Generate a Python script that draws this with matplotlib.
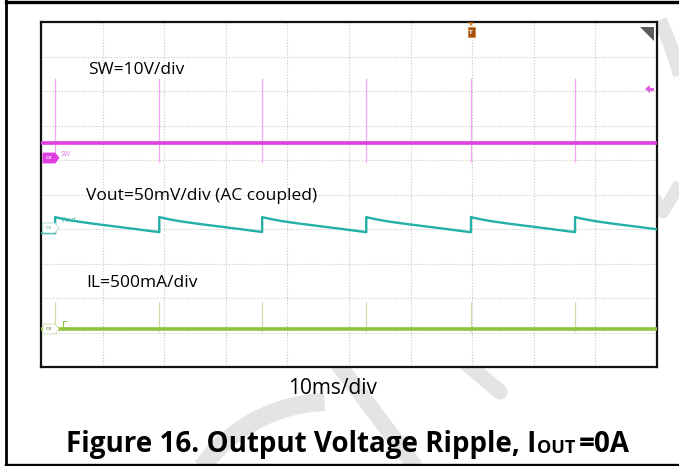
import numpy as np
import matplotlib
matplotlib.use("Agg")
import matplotlib.pyplot as plt
from matplotlib.patches import Polygon, Rectangle

# scope settings
TIME_PER_DIV_MS = 10
SW_V_PER_DIV = 10
VOUT_MV_PER_DIV = 50
IL_MA_PER_DIV = 500

# channel ground positions (divisions from bottom of the screen)
SW_OFFSET_DIV = 6.49
VOUT_OFFSET_DIV = 3.88
IL_OFFSET_DIV = 1.10

# switching bursts (ms)
pulse_times_ms = [2.3, 19.2, 35.9, 52.8, 69.8, 86.7]
sw_spike_v = [19.0, -5.5]
il_spike_ma = [390, -40]

# one Vout ripple cycle: time after burst (ms) / ripple (mV)
vout_decay_t_ms = [0, 1, 2, 3, 4, 6, 8, 10, 12, 14, 16.9]
vout_decay_mv = [23.2, 21.2, 19.4, 17.8, 16.4, 13.9, 11.6, 9.4, 7.1, 4.8, 1.4]
vout_start_mv = 0.0

W, H = 679, 466
SW_COLOR = "#e03ee0"
SW_SPIKE = "#f3a6f3"
VOUT_COLOR = "#22b0a8"
IL_COLOR = "#8fc23e"
IL_SPIKE = "#cadda6"
WM = "#e4e4e4"
FONT = "Open Sans"


def fx(px):
    return px / W


def fy(py):
    return 1 - py / H


fig = plt.figure(figsize=(W / 100, H / 100), dpi=100)
fig.patch.set_facecolor("white")

# background layer in pixel coords: watermark and page frame
bg = fig.add_axes([0, 0, 1, 1], zorder=0)
bg.set_xlim(0, W)
bg.set_ylim(H, 0)
bg.axis("off")


def arc(cx, cy, r, a0, a1, n=60):
    a = np.radians(np.linspace(a0, a1, n))
    return cx + r * np.cos(a), cy - r * np.sin(a)


x, y = arc(330, 560, 158, 152, 92)
bg.plot(x, y, color=WM, lw=13, solid_capstyle="butt")
bg.plot([335, 418], [360, 470], color=WM, lw=11.5, solid_capstyle="butt")
bg.plot([462, 500], [360, 392], color=WM, lw=11, solid_capstyle="round")
bg.plot([660, 666, 672, 678, 684], [20, 34, 50, 68, 90], color=WM, lw=10, solid_capstyle="butt")
bg.plot([640, 663, 688], [175, 212, 170], color=WM, lw=9, solid_capstyle="butt")

# page frame
bg.plot([6, W], [1.5, 1.5], color="black", lw=2.4)
bg.plot([6, 6], [0, H], color="black", lw=2.0)
bg.plot([6, W], [464.5, 464.5], color="black", lw=2.4)

# scope screen
left, right, top, bottom = 41, 657, 22, 367
ax = fig.add_axes([fx(left), fy(bottom), fx(right - left), (bottom - top) / H], zorder=2)
ax.set_facecolor("white")
ax.set_xlim(0, 10 * TIME_PER_DIV_MS)
ax.set_ylim(0, 10)
ax.set_xticks([])
ax.set_yticks([])
for s in ax.spines.values():
    s.set_linewidth(1.6)
    s.set_color("#111111")

for i in range(1, 10):
    ax.axvline(i * TIME_PER_DIV_MS, color="#c8c8c8", lw=0.8, ls=(0, (1, 1.6)), zorder=1)
    ax.axhline(i, color="#c8c8c8", lw=0.8, ls=(0, (1, 1.6)), zorder=1)

t_end = 10 * TIME_PER_DIV_MS

# SW channel
ax.vlines(pulse_times_ms, SW_OFFSET_DIV + sw_spike_v[1] / SW_V_PER_DIV,
          SW_OFFSET_DIV + sw_spike_v[0] / SW_V_PER_DIV, color=SW_SPIKE, lw=0.9, zorder=3)
ax.plot([0, t_end], [SW_OFFSET_DIV, SW_OFFSET_DIV], color=SW_COLOR, lw=2.6, zorder=4)

# Vout channel
vt = [0, pulse_times_ms[0]]
vv = [vout_start_mv, vout_start_mv]
for k, p in enumerate(pulse_times_ms):
    end = pulse_times_ms[k + 1] if k + 1 < len(pulse_times_ms) else t_end
    for dt, mv in zip(vout_decay_t_ms, vout_decay_mv):
        if p + dt < end:
            vt.append(p + dt)
            vv.append(mv)
    vt.append(end)
    vv.append(np.interp(end - p, vout_decay_t_ms, vout_decay_mv))
vt = np.array(vt)
vv = np.array(vv)
ax.plot(vt, VOUT_OFFSET_DIV + vv / VOUT_MV_PER_DIV, color=VOUT_COLOR, lw=1.7, zorder=4)

# IL channel
ax.vlines(pulse_times_ms, IL_OFFSET_DIV + il_spike_ma[1] / IL_MA_PER_DIV,
          IL_OFFSET_DIV + il_spike_ma[0] / IL_MA_PER_DIV, color=IL_SPIKE, lw=0.9, zorder=3)
ax.plot([0, t_end], [IL_OFFSET_DIV, IL_OFFSET_DIV], color=IL_COLOR, lw=2.6, zorder=4)

# overlay for scope markers (pixel coords)
ov = fig.add_axes([0, 0, 1, 1], zorder=3)
ov.set_xlim(0, W)
ov.set_ylim(H, 0)
ov.axis("off")
ov.patch.set_alpha(0)


def chan_marker(yc, face, edge, txt, tcolor):
    pts = [(43, yc - 5), (55, yc - 5), (59, yc), (55, yc + 5), (43, yc + 5)]
    ov.add_patch(Polygon(pts, closed=True, facecolor=face, edgecolor=edge, lw=0.6))
    ov.text(49, yc + 0.3, txt, fontsize=3.2, color=tcolor, ha="center", va="center",
            fontweight="bold")


chan_marker(158, SW_COLOR, SW_COLOR, "C3", "white")
ov.text(61, 155, "SW", fontsize=5, color="#e070e0", va="center", family=FONT)
chan_marker(228, "white", "#a8dcd8", "C2", "#7cbcb6")
ov.text(61, 220, "Vout", fontsize=5, color="#40aea6", va="center", family=FONT)
chan_marker(329, "white", "#cfe0b0", "C4", "#8aa060")
ov.plot([63, 63, 66], [328, 321, 321], color=IL_COLOR, lw=0.8)

# ground arrow for C3 on the right edge
ov.add_patch(Polygon([(645, 89), (650, 85), (650, 93)], closed=True, facecolor="#e060e0", lw=0))
ov.add_patch(Rectangle((649, 87.5), 5, 3, facecolor="#e060e0", lw=0))

# trigger marker
ov.add_patch(Polygon([(468, 22.5), (474, 22.5), (471, 26)], closed=True, facecolor="#f08a20", lw=0))
ov.add_patch(Rectangle((467.5, 27), 7, 10, facecolor="#a24f10", edgecolor="#e08020", lw=0.5))
ov.text(471, 32.2, "T", fontsize=4, color="white", ha="center", va="center", fontweight="bold")

# corner icon
ov.add_patch(Polygon([(640, 27), (654, 27), (654, 41)], closed=True, facecolor="#5c5c5c", lw=0))

# annotations
fig.text(fx(88), fy(73.5), "SW=10V/div", fontsize=12.5, family=FONT, va="baseline", zorder=5)
fig.text(fx(86), fy(200), "Vout=50mV/div (AC coupled)", fontsize=12.5, family=FONT,
         va="baseline", zorder=5)
fig.text(fx(86), fy(287), "IL=500mA/div", fontsize=12.5, family=FONT, va="baseline", zorder=5)

fig.text(fx(288), fy(394), "10ms/div", fontsize=15, family=FONT, va="baseline", zorder=5)

# caption with subscript
renderer = fig.canvas.get_renderer()
t1 = fig.text(fx(66), fy(452), "Figure 16. Output Voltage Ripple, I", fontsize=20,
              fontweight="bold", family=FONT, va="baseline", zorder=5)
bb = t1.get_window_extent(renderer)
t2 = fig.text((bb.x1 + 1) / fig.dpi / fig.get_figwidth(), fy(453), "OUT", fontsize=13,
              fontweight="bold", family=FONT, va="baseline", zorder=5)
bb2 = t2.get_window_extent(renderer)
fig.text((bb2.x1 + 3) / fig.dpi / fig.get_figwidth(), fy(452), "=0A", fontsize=20,
         fontweight="bold", family=FONT, va="baseline", zorder=5)

fig.savefig("out.png", dpi=100, facecolor="white")
